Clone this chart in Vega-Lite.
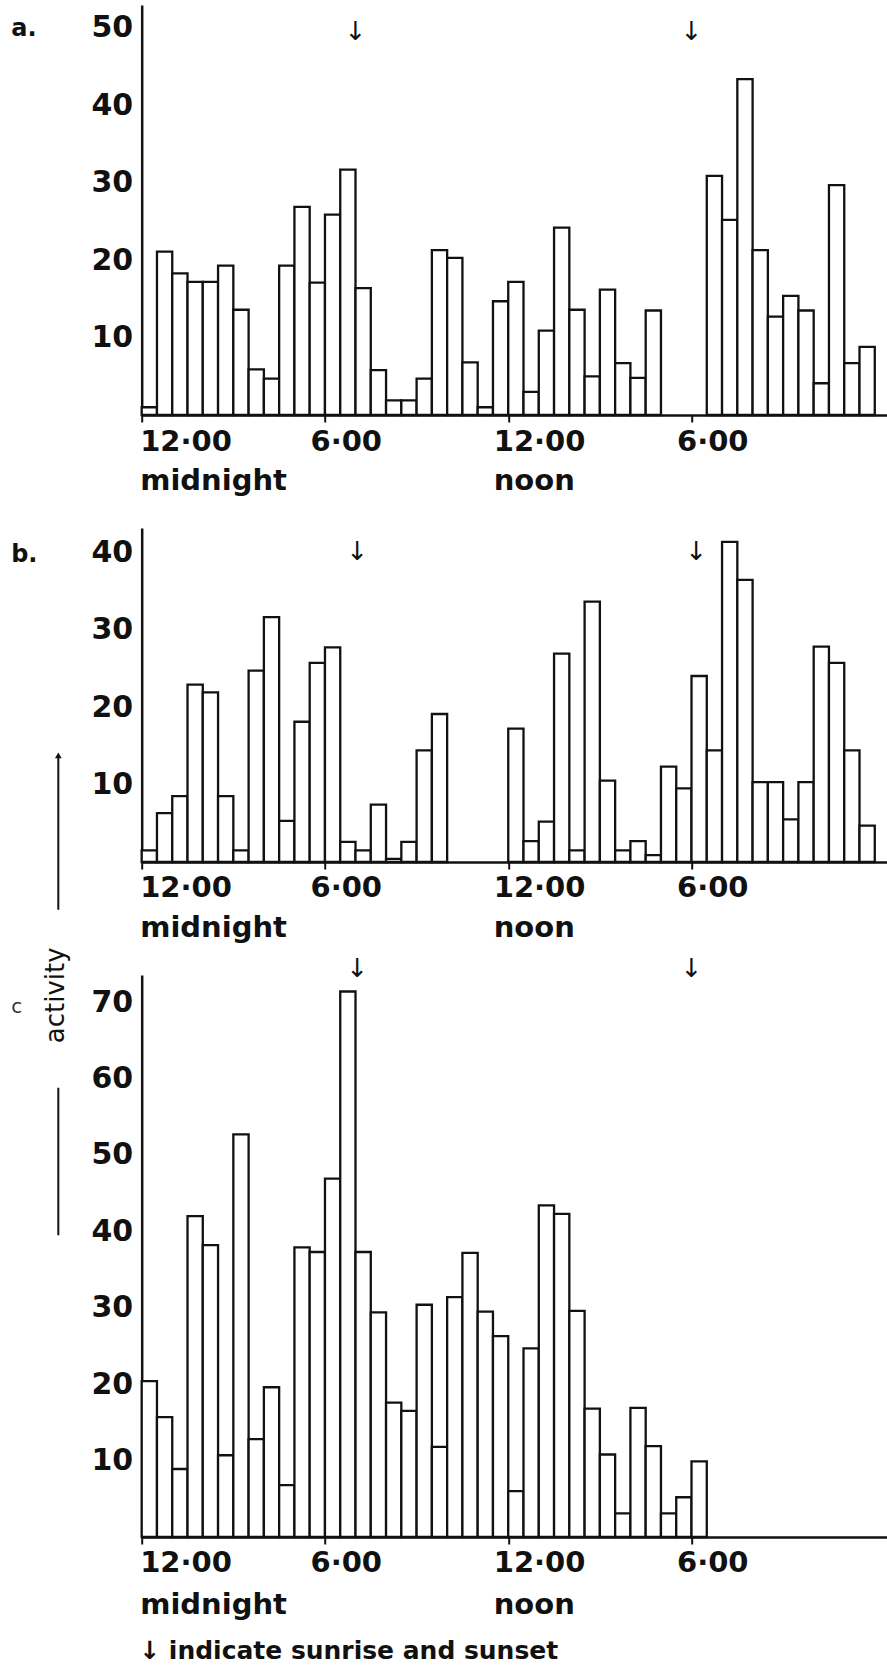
{
  "$schema": "https://vega.github.io/schema/vega-lite/v6.json",
  "background": "white",
  "padding": {"left": 10.7, "top": 5, "right": 0, "bottom": 0},
  "config": {"view": {"stroke": null}, "font": "DejaVu Sans"},
  "bounds": "flush",
  "spacing": 113,
  "datasets": {
    "a": [
      {"start": 0, "end": 0.5, "activity": 1.0},
      {"start": 0.5, "end": 1, "activity": 21.1},
      {"start": 1, "end": 1.5, "activity": 18.3},
      {"start": 1.5, "end": 2, "activity": 17.2},
      {"start": 2, "end": 2.5, "activity": 17.2},
      {"start": 2.5, "end": 3, "activity": 19.3},
      {"start": 3, "end": 3.5, "activity": 13.6},
      {"start": 3.5, "end": 4, "activity": 5.9},
      {"start": 4, "end": 4.5, "activity": 4.7},
      {"start": 4.5, "end": 5, "activity": 19.3},
      {"start": 5, "end": 5.5, "activity": 26.9},
      {"start": 5.5, "end": 6, "activity": 17.1},
      {"start": 6, "end": 6.5, "activity": 25.9},
      {"start": 6.5, "end": 7, "activity": 31.7},
      {"start": 7, "end": 7.5, "activity": 16.4},
      {"start": 7.5, "end": 8, "activity": 5.8},
      {"start": 8, "end": 8.5, "activity": 1.9},
      {"start": 8.5, "end": 9, "activity": 1.9},
      {"start": 9, "end": 9.5, "activity": 4.7},
      {"start": 9.5, "end": 10, "activity": 21.3},
      {"start": 10, "end": 10.5, "activity": 20.3},
      {"start": 10.5, "end": 11, "activity": 6.8},
      {"start": 11, "end": 11.5, "activity": 1.0},
      {"start": 11.5, "end": 12, "activity": 14.7},
      {"start": 12, "end": 12.5, "activity": 17.2},
      {"start": 12.5, "end": 13, "activity": 3.0},
      {"start": 13, "end": 13.5, "activity": 10.9},
      {"start": 13.5, "end": 14, "activity": 24.2},
      {"start": 14, "end": 14.5, "activity": 13.6},
      {"start": 14.5, "end": 15, "activity": 5.0},
      {"start": 15, "end": 15.5, "activity": 16.2},
      {"start": 15.5, "end": 16, "activity": 6.7},
      {"start": 16, "end": 16.5, "activity": 4.8},
      {"start": 16.5, "end": 17, "activity": 13.5},
      {"start": 18.5, "end": 19, "activity": 30.9},
      {"start": 19, "end": 19.5, "activity": 25.2},
      {"start": 19.5, "end": 20, "activity": 43.4},
      {"start": 20, "end": 20.5, "activity": 21.3},
      {"start": 20.5, "end": 21, "activity": 12.7},
      {"start": 21, "end": 21.5, "activity": 15.4},
      {"start": 21.5, "end": 22, "activity": 13.5},
      {"start": 22, "end": 22.5, "activity": 4.1},
      {"start": 22.5, "end": 23, "activity": 29.7},
      {"start": 23, "end": 23.5, "activity": 6.7},
      {"start": 23.5, "end": 24, "activity": 8.8}
    ],
    "b": [
      {"start": 0, "end": 0.5, "activity": 1.5},
      {"start": 0.5, "end": 1, "activity": 6.3},
      {"start": 1, "end": 1.5, "activity": 8.5},
      {"start": 1.5, "end": 2, "activity": 22.9},
      {"start": 2, "end": 2.5, "activity": 21.9},
      {"start": 2.5, "end": 3, "activity": 8.5},
      {"start": 3, "end": 3.5, "activity": 1.5},
      {"start": 3.5, "end": 4, "activity": 24.7},
      {"start": 4, "end": 4.5, "activity": 31.6},
      {"start": 4.5, "end": 5, "activity": 5.3},
      {"start": 5, "end": 5.5, "activity": 18.1},
      {"start": 5.5, "end": 6, "activity": 25.7},
      {"start": 6, "end": 6.5, "activity": 27.7},
      {"start": 6.5, "end": 7, "activity": 2.6},
      {"start": 7, "end": 7.5, "activity": 1.5},
      {"start": 7.5, "end": 8, "activity": 7.4},
      {"start": 8, "end": 8.5, "activity": 0.4},
      {"start": 8.5, "end": 9, "activity": 2.6},
      {"start": 9, "end": 9.5, "activity": 14.4},
      {"start": 9.5, "end": 10, "activity": 19.1},
      {"start": 12, "end": 12.5, "activity": 17.2},
      {"start": 12.5, "end": 13, "activity": 2.7},
      {"start": 13, "end": 13.5, "activity": 5.2},
      {"start": 13.5, "end": 14, "activity": 26.9},
      {"start": 14, "end": 14.5, "activity": 1.5},
      {"start": 14.5, "end": 15, "activity": 33.6},
      {"start": 15, "end": 15.5, "activity": 10.5},
      {"start": 15.5, "end": 16, "activity": 1.5},
      {"start": 16, "end": 16.5, "activity": 2.7},
      {"start": 16.5, "end": 17, "activity": 0.9},
      {"start": 17, "end": 17.5, "activity": 12.3},
      {"start": 17.5, "end": 18, "activity": 9.5},
      {"start": 18, "end": 18.5, "activity": 24.0},
      {"start": 18.5, "end": 19, "activity": 14.4},
      {"start": 19, "end": 19.5, "activity": 41.3},
      {"start": 19.5, "end": 20, "activity": 36.4},
      {"start": 20, "end": 20.5, "activity": 10.3},
      {"start": 20.5, "end": 21, "activity": 10.3},
      {"start": 21, "end": 21.5, "activity": 5.5},
      {"start": 21.5, "end": 22, "activity": 10.3},
      {"start": 22, "end": 22.5, "activity": 27.8},
      {"start": 22.5, "end": 23, "activity": 25.7},
      {"start": 23, "end": 23.5, "activity": 14.4},
      {"start": 23.5, "end": 24, "activity": 4.7}
    ],
    "c": [
      {"start": 0, "end": 0.5, "activity": 20.4},
      {"start": 0.5, "end": 1, "activity": 15.7},
      {"start": 1, "end": 1.5, "activity": 8.9},
      {"start": 1.5, "end": 2, "activity": 42.0},
      {"start": 2, "end": 2.5, "activity": 38.2},
      {"start": 2.5, "end": 3, "activity": 10.7},
      {"start": 3, "end": 3.5, "activity": 52.7},
      {"start": 3.5, "end": 4, "activity": 12.8},
      {"start": 4, "end": 4.5, "activity": 19.6},
      {"start": 4.5, "end": 5, "activity": 6.8},
      {"start": 5, "end": 5.5, "activity": 37.9},
      {"start": 5.5, "end": 6, "activity": 37.3},
      {"start": 6, "end": 6.5, "activity": 46.9},
      {"start": 6.5, "end": 7, "activity": 71.4},
      {"start": 7, "end": 7.5, "activity": 37.3},
      {"start": 7.5, "end": 8, "activity": 29.4},
      {"start": 8, "end": 8.5, "activity": 17.6},
      {"start": 8.5, "end": 9, "activity": 16.5},
      {"start": 9, "end": 9.5, "activity": 30.4},
      {"start": 9.5, "end": 10, "activity": 11.8},
      {"start": 10, "end": 10.5, "activity": 31.4},
      {"start": 10.5, "end": 11, "activity": 37.2},
      {"start": 11, "end": 11.5, "activity": 29.5},
      {"start": 11.5, "end": 12, "activity": 26.3},
      {"start": 12, "end": 12.5, "activity": 6.0},
      {"start": 12.5, "end": 13, "activity": 24.7},
      {"start": 13, "end": 13.5, "activity": 43.4},
      {"start": 13.5, "end": 14, "activity": 42.3},
      {"start": 14, "end": 14.5, "activity": 29.6},
      {"start": 14.5, "end": 15, "activity": 16.8},
      {"start": 15, "end": 15.5, "activity": 10.8},
      {"start": 15.5, "end": 16, "activity": 3.1},
      {"start": 16, "end": 16.5, "activity": 16.9},
      {"start": 16.5, "end": 17, "activity": 11.9},
      {"start": 17, "end": 17.5, "activity": 3.1},
      {"start": 17.5, "end": 18, "activity": 5.2},
      {"start": 18, "end": 18.5, "activity": 9.9}
    ],
    "sun": [
      {"panel": "a", "event": "sunrise", "hour": 7.0},
      {"panel": "a", "event": "sunset", "hour": 18.0},
      {"panel": "b", "event": "sunrise", "hour": 7.05},
      {"panel": "b", "event": "sunset", "hour": 18.15},
      {"panel": "c", "event": "sunrise", "hour": 7.05},
      {"panel": "c", "event": "sunset", "hour": 18.0}
    ]
  },
  "vconcat": [
    {
      "width": 745,
      "height": 410,
      "layer": [
        {
          "data": {"name": "a"},
          "mark": {"type": "bar", "fill": "white", "stroke": "#111", "strokeWidth": 2.3},
          "encoding": {
            "x": {
              "field": "start", "type": "quantitative",
              "scale": {"domain": [0, 24.39], "nice": false, "zero": false},
              "axis": {
                "values": [0, 6, 12, 18],
                "labelExpr": "datum.value == 0 ? ['12·00', 'midnight'] : (datum.value == 12 ? ['12·00', 'noon'] : '6·00')",
                "title": null, "grid": false,
                "domainColor": "#111", "domainWidth": 2.5,
                "tickColor": "#111", "tickWidth": 2, "tickSize": 7,
                "labelFont": "DejaVu Sans", "labelFontSize": 29, "labelFontWeight": "bold", "labelColor": "#111",
                "labelAlign": "left", "labelBaseline": "top",
                "labelOffset": {"condition": {"test": "datum.value == 0", "value": -2}, "value": -15},
                "labelPadding": 5, "labelLineHeight": 40,
                "labelOverlap": false, "labelFlush": false, "labelBound": false
              }
            },
            "x2": {"field": "end"},
            "y": {
              "field": "activity", "type": "quantitative",
              "scale": {"domain": [0, 52.97], "nice": false},
              "axis": {
                "values": [10, 20, 30, 40, 50], "ticks": false, "grid": false,
                "domainColor": "#111", "domainWidth": 2.5,
                "labelFont": "DejaVu Sans", "labelFontSize": 30, "labelFontWeight": "bold", "labelColor": "#111",
                "labelPadding": 9, "labelFlush": false, "labelOverlap": false,
                "title": "a.", "titleAngle": 0, "titleAlign": "left", "titleBaseline": "middle",
                "titleX": -131, "titleY": 23, "titleFont": "DejaVu Sans", "titleFontSize": 24,
                "titleFontWeight": "bold", "titleColor": "#111"
              }
            },
            "y2": {"datum": 0}
          }
        },
        {
          "data": {"name": "sun"},
          "transform": [{"filter": "datum.panel == 'a'"}],
          "mark": {"type": "text", "text": "↓", "fontSize": 26, "baseline": "middle", "align": "center", "color": "#111"},
          "encoding": {
            "x": {"field": "hour", "type": "quantitative"},
            "y": {"datum": 49.5}
          }
        }
      ]
    },
    {
      "width": 745,
      "height": 334,
      "layer": [
        {
          "data": {"name": "b"},
          "mark": {"type": "bar", "fill": "white", "stroke": "#111", "strokeWidth": 2.3},
          "encoding": {
            "x": {
              "field": "start", "type": "quantitative",
              "scale": {"domain": [0, 24.39], "nice": false, "zero": false},
              "axis": {
                "values": [0, 6, 12, 18],
                "labelExpr": "datum.value == 0 ? ['12·00', 'midnight'] : (datum.value == 12 ? ['12·00', 'noon'] : '6·00')",
                "title": null, "grid": false,
                "domainColor": "#111", "domainWidth": 2.5,
                "tickColor": "#111", "tickWidth": 2, "tickSize": 7,
                "labelFont": "DejaVu Sans", "labelFontSize": 29, "labelFontWeight": "bold", "labelColor": "#111",
                "labelAlign": "left", "labelBaseline": "top",
                "labelOffset": {"condition": {"test": "datum.value == 0", "value": -2}, "value": -15},
                "labelPadding": 5, "labelLineHeight": 40,
                "labelOverlap": false, "labelFlush": false, "labelBound": false
              }
            },
            "x2": {"field": "end"},
            "y": {
              "field": "activity", "type": "quantitative",
              "scale": {"domain": [0, 43.1], "nice": false},
              "axis": {
                "values": [10, 20, 30, 40], "ticks": false, "grid": false,
                "domainColor": "#111", "domainWidth": 2.5,
                "labelFont": "DejaVu Sans", "labelFontSize": 30, "labelFontWeight": "bold", "labelColor": "#111",
                "labelPadding": 9, "labelFlush": false, "labelOverlap": false,
                "title": "b.", "titleAngle": 0, "titleAlign": "left", "titleBaseline": "middle",
                "titleX": -131, "titleY": 26, "titleFont": "DejaVu Sans", "titleFontSize": 24,
                "titleFontWeight": "bold", "titleColor": "#111"
              }
            },
            "y2": {"datum": 0}
          }
        },
        {
          "data": {"name": "sun"},
          "transform": [{"filter": "datum.panel == 'b'"}],
          "mark": {"type": "text", "text": "↓", "fontSize": 26, "baseline": "middle", "align": "center", "color": "#111"},
          "encoding": {
            "x": {"field": "hour", "type": "quantitative"},
            "y": {"datum": 40}
          }
        }
      ]
    },
    {
      "width": 745,
      "height": 562,
      "layer": [
        {
          "data": {"name": "c"},
          "mark": {"type": "bar", "fill": "white", "stroke": "#111", "strokeWidth": 2.3},
          "encoding": {
            "x": {
              "field": "start", "type": "quantitative",
              "scale": {"domain": [0, 24.39], "nice": false, "zero": false},
              "axis": {
                "values": [0, 6, 12, 18],
                "labelExpr": "datum.value == 0 ? ['12·00', 'midnight'] : (datum.value == 12 ? ['12·00', 'noon'] : '6·00')",
                "grid": false,
                "domainColor": "#111", "domainWidth": 2.5,
                "tickColor": "#111", "tickWidth": 2, "tickSize": 7,
                "labelFont": "DejaVu Sans", "labelFontSize": 29, "labelFontWeight": "bold", "labelColor": "#111",
                "labelAlign": "left", "labelBaseline": "top",
                "labelOffset": {"condition": {"test": "datum.value == 0", "value": -2}, "value": -15},
                "labelPadding": 5, "labelLineHeight": 42,
                "labelOverlap": false, "labelFlush": false, "labelBound": false,
                "title": "↓ indicate sunrise and sunset",
                "titleFont": "DejaVu Sans", "titleFontSize": 25, "titleFontWeight": "bold",
                "titleColor": "#111", "titleAlign": "left", "titleBaseline": "middle",
                "titleX": -3, "titleY": 114
              }
            },
            "x2": {"field": "end"},
            "y": {
              "field": "activity", "type": "quantitative",
              "scale": {"domain": [0, 73.56], "nice": false},
              "axis": {
                "values": [10, 20, 30, 40, 50, 60, 70], "ticks": false, "grid": false,
                "domainColor": "#111", "domainWidth": 2.5,
                "labelFont": "DejaVu Sans", "labelFontSize": 30, "labelFontWeight": "bold", "labelColor": "#111",
                "labelPadding": 9, "labelFlush": false, "labelOverlap": false,
                "title": "c", "titleAngle": 0, "titleAlign": "left", "titleBaseline": "middle",
                "titleX": -131, "titleY": 32, "titleFont": "DejaVu Sans", "titleFontSize": 20,
                "titleFontWeight": "normal", "titleColor": "#333"
              }
            },
            "y2": {"datum": 0}
          }
        },
        {
          "data": {"name": "sun"},
          "transform": [{"filter": "datum.panel == 'c'"}],
          "mark": {"type": "text", "text": "↓", "fontSize": 26, "baseline": "middle", "align": "center", "color": "#111"},
          "encoding": {
            "x": {"field": "hour", "type": "quantitative"},
            "y": {"datum": 74.4}
          }
        },
        {
          "data": {"values": [{}]},
          "mark": {"type": "text", "text": "activity", "fontSize": 26, "angle": 270, "baseline": "middle", "align": "center", "color": "#111"},
          "encoding": {
            "x": {"datum": -2.81, "type": "quantitative"},
            "y": {"datum": 70.9, "type": "quantitative"}
          }
        },
        {
          "data": {"values": [{}]},
          "mark": {"type": "rule", "color": "#111", "strokeWidth": 2},
          "encoding": {
            "x": {"datum": -2.73, "type": "quantitative"},
            "y": {"datum": 102.3, "type": "quantitative"},
            "y2": {"datum": 82.1}
          }
        },
        {
          "data": {"values": [{}]},
          "mark": {"type": "point", "shape": "triangle-up", "filled": true, "size": 45, "color": "#111", "opacity": 1},
          "encoding": {
            "x": {"datum": -2.73, "type": "quantitative"},
            "y": {"datum": 102.3, "type": "quantitative"}
          }
        },
        {
          "data": {"values": [{}]},
          "mark": {"type": "rule", "color": "#111", "strokeWidth": 2},
          "encoding": {
            "x": {"datum": -2.73, "type": "quantitative"},
            "y": {"datum": 58.8, "type": "quantitative"},
            "y2": {"datum": 39.5}
          }
        }
      ]
    }
  ]
}
